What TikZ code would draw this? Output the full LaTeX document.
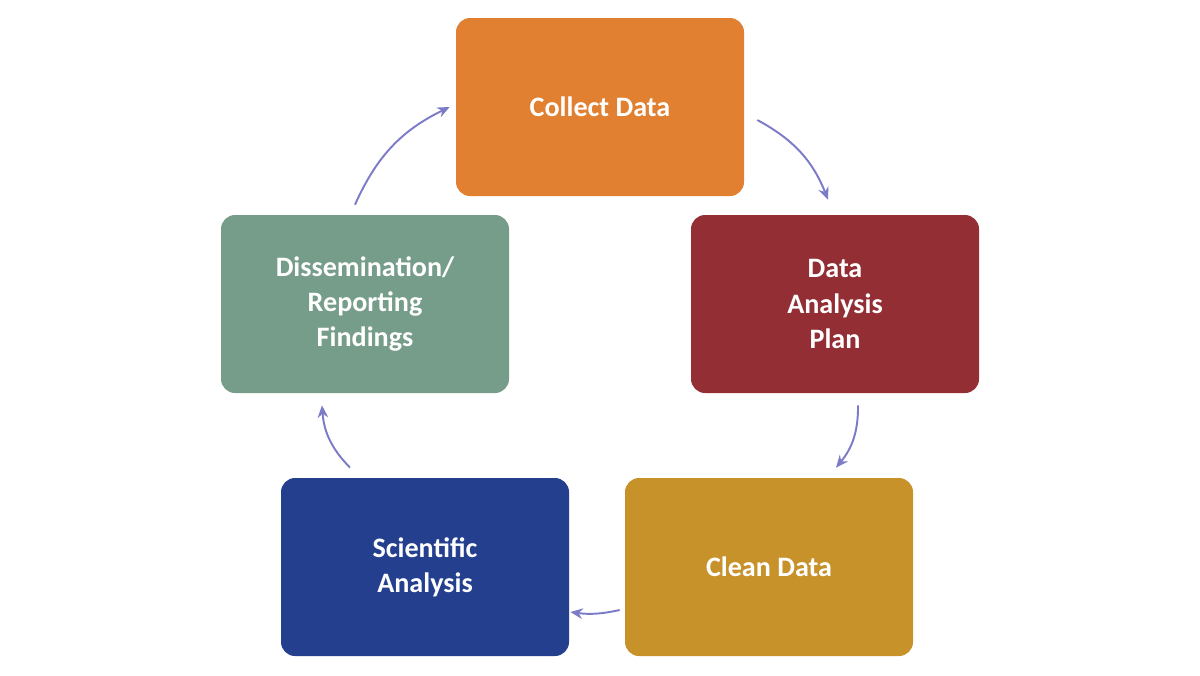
\documentclass[tikz,border=0pt]{standalone}
\usepackage{fontspec}
\setmainfont{Carlito}
\usetikzlibrary{arrows.meta}
\definecolor{cOrange}{HTML}{E08030}
\definecolor{cRed}{HTML}{922E34}
\definecolor{cGold}{HTML}{C8922A}
\definecolor{cBlue}{HTML}{233F8E}
\definecolor{cTeal}{HTML}{769C8A}
\definecolor{cArrow}{HTML}{7B7BC8}
\tikzset{
  stage/.style={rounded corners=8pt, minimum width=5.76cm, minimum height=3.56cm,
    text=white, font=\fontsize{16}{20}\selectfont\bfseries, align=center, inner sep=0pt},
  cyc/.style={cArrow, line width=1.1pt, -{Stealth[length=7pt,width=6pt]}, bend left=20}
}
\begin{document}
\begin{tikzpicture}
\useasboundingbox (0,0) rectangle (24,-13.5);
\node[stage, fill=cOrange] (collect) at (12,-2.14) {Collect Data};
\node[stage, fill=cRed] (plan) at (16.7,-6.08) {Data\\Analysis\\Plan};
\node[stage, fill=cGold] (clean) at (15.38,-11.34) {Clean Data};
\node[stage, fill=cBlue] (sci) at (8.5,-11.34) {Scientific\\Analysis};
\node[stage, fill=cTeal] (diss) at (7.3,-6.08) {Dissemination/\\Reporting\\Findings};
\draw[cyc] ([shift={(0.26,-0.26)}]collect.east) to ([shift={(-0.14,0.3)}]plan.north);
\draw[cyc] ([shift={(0.46,-0.24)}]plan.south) to ([shift={(1.34,0.2)}]clean.north);
\draw[cyc, bend left=10] ([shift={(-0.1,-0.86)}]clean.west) to ([shift={(0.02,-0.9)}]sci.east);
\draw[cyc] ([shift={(-1.5,0.2)}]sci.north) to ([shift={(-0.86,-0.24)}]diss.south);
\draw[cyc] ([shift={(-0.2,0.2)}]diss.north) to ([shift={(-0.12,0)}]collect.west);
\end{tikzpicture}
\end{document}
